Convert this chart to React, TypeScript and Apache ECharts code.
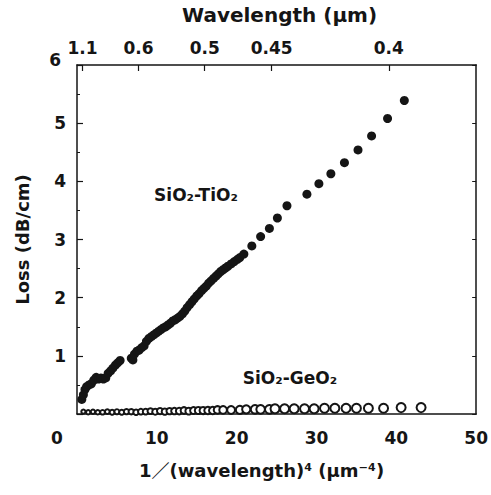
import React, { useEffect, useRef } from "react";
import * as echarts from "echarts";

// x: 1/(wavelength)^4 (µm^-4), y: loss (dB/cm)
const tio2X = [0.6, 0.8, 1.0, 1.2, 1.5, 1.8, 2.1, 2.4, 2.7, 3.0, 3.3, 3.6, 3.9, 4.2, 4.5, 4.8, 5.1, 5.4,
  6.8, 7.0, 7.2, 7.5, 7.8, 8.1, 8.4, 8.7, 9.0, 9.3, 9.6, 9.9, 10.2, 10.5, 10.8, 11.1, 11.4, 11.7, 12.0,
  12.3, 12.6, 12.9, 13.2, 13.5, 13.8, 14.1, 14.4, 14.7, 15.0, 15.3, 15.6, 15.9, 16.2, 16.5, 16.8, 17.1,
  17.4, 17.7, 18.0, 18.3, 18.6, 18.9, 19.3, 19.7, 20.1, 20.4, 20.9, 21.9, 23.0, 24.1, 25.1, 26.3, 28.8,
  30.3, 31.8, 33.5, 35.2, 36.9, 38.9, 41.0];
const tio2Y = [0.25, 0.33, 0.42, 0.47, 0.5, 0.52, 0.58, 0.63, 0.6, 0.62, 0.6, 0.62, 0.7, 0.74, 0.79, 0.84, 0.88, 0.92,
  0.96, 0.93, 1.03, 1.08, 1.1, 1.14, 1.17, 1.25, 1.3, 1.33, 1.36, 1.39, 1.42, 1.45, 1.48, 1.5, 1.53, 1.56, 1.6,
  1.62, 1.65, 1.68, 1.72, 1.77, 1.83, 1.88, 1.93, 1.98, 2.03, 2.07, 2.12, 2.16, 2.2, 2.25, 2.29, 2.33,
  2.37, 2.41, 2.45, 2.48, 2.51, 2.54, 2.58, 2.62, 2.66, 2.69, 2.75, 2.89, 3.05, 3.19, 3.37, 3.58, 3.78,
  3.96, 4.13, 4.32, 4.54, 4.78, 5.08, 5.39];

const geo2X = [0.8, 1.4, 2.0, 2.6, 3.2, 3.8, 4.4, 5.0, 5.6, 6.2, 6.8, 7.4, 8.0, 8.6, 9.2, 9.8, 10.4, 11.0,
  11.6, 12.2, 12.8, 13.4, 14.0, 14.6, 15.2, 15.8, 16.4, 17.0, 17.6, 18.3, 19.3, 20.4, 21.2, 22.3, 23.0,
  24.1, 24.8, 26.0, 27.2, 28.5, 29.7, 31.0, 32.3, 33.7, 35.0, 36.5, 38.4, 40.6, 43.1];
const geo2Y = [0.04, 0.03, 0.04, 0.03, 0.03, 0.04, 0.03, 0.04, 0.03, 0.04, 0.04, 0.03, 0.04, 0.04, 0.05, 0.04, 0.05, 0.04,
  0.05, 0.05, 0.05, 0.06, 0.05, 0.06, 0.06, 0.06, 0.06, 0.06, 0.07, 0.07, 0.07, 0.07, 0.08, 0.08, 0.08,
  0.08, 0.09, 0.09, 0.09, 0.09, 0.09, 0.1, 0.1, 0.1, 0.1, 0.1, 0.1, 0.11, 0.11];

const xTicks = [0, 10, 20, 30, 40, 50];
const yTicks = [0, 1, 2, 3, 4, 5, 6];
const wavelengthLabels = ["1.1", "0.6", "0.5", "0.45", "0.4"];

const FONT = "'DejaVu Sans', 'Noto Sans CJK JP', sans-serif";
const INK = "#151515";

export default function App() {
  const ref = useRef<HTMLDivElement>(null);
  useEffect(() => {
    if (!ref.current) return;
    const chart = echarts.init(ref.current, undefined, { renderer: "svg" });
    const topPositions = wavelengthLabels.map((s) => 1 / Math.pow(parseFloat(s), 4));
    const tio2 = tio2X.map((x, i) => [x, tio2Y[i]]);
    const geo2 = geo2X.map((x, i) => [x, geo2Y[i]]);
    const lineStyle = { color: INK, width: 1.5 };
    const labelBase = { fontFamily: FONT, fontSize: 17, fontWeight: "bold" as const, color: INK };
    chart.setOption({
      animation: false,
      backgroundColor: "#fff",
      grid: { left: 77, right: 10, top: 65, bottom: 81, containLabel: false },
      xAxis: [
        {
          type: "value",
          position: "bottom",
          min: xTicks[0],
          max: xTicks[xTicks.length - 1],
          interval: 10,
          axisLine: { show: true, onZero: false, lineStyle },
          axisTick: { show: false },
          splitLine: { show: false },
          axisLabel: {
            margin: 15,
            ...labelBase,
            formatter: (v: number) => (v === 0 ? "{z|0}" : String(v)),
            rich: { z: { ...labelBase, padding: [0, 40, 0, 0] } },
          },
          name: "1／(wavelength)⁴ (μm⁻⁴)",
          nameLocation: "middle",
          nameGap: 47,
          nameTextStyle: { fontFamily: FONT, fontSize: 18, fontWeight: "bold", color: INK, padding: [0, 30, 0, 0] },
        },
        {
          type: "value",
          position: "top",
          min: 0,
          max: 50,
          axisLine: { show: true, onZero: false, lineStyle },
          axisTick: { show: true, inside: true, length: 6, customValues: topPositions, lineStyle: { color: INK, width: 1.2 } },
          splitLine: { show: false },
          axisLabel: {
            customValues: topPositions,
            margin: 9,
            ...labelBase,
            formatter: (v: number) => {
              let best = 0;
              topPositions.forEach((p, i) => {
                if (Math.abs(p - v) < Math.abs(topPositions[best] - v)) best = i;
              });
              return wavelengthLabels[best];
            },
          },
          name: "Wavelength (μm)",
          nameLocation: "middle",
          nameGap: 40,
          nameTextStyle: { fontFamily: FONT, fontSize: 20, fontWeight: "bold", color: INK, padding: [0, 0, 0, 6] },
        },
      ],
      yAxis: [
        {
          type: "value",
          position: "left",
          min: yTicks[0],
          max: yTicks[yTicks.length - 1],
          interval: 1,
          axisLine: { show: true, onZero: false, lineStyle },
          axisTick: { show: true, inside: true, length: 6, lineStyle: { color: INK, width: 1.2 } },
          minorTick: { show: true, splitNumber: 2, length: 3, lineStyle: { color: INK, width: 1 } },
          splitLine: { show: false },
          axisLabel: {
            margin: 11,
            ...labelBase,
            formatter: (v: number) => (v === 0 ? "" : v === 6 ? "{t|6}" : String(v)),
            rich: { t: { ...labelBase, padding: [0, 5, 10, 0] } },
          },
          name: "Loss (dB/cm)",
          nameLocation: "middle",
          nameRotate: 90,
          nameGap: 46,
          nameTextStyle: { fontFamily: FONT, fontSize: 18, fontWeight: "bold", color: INK },
        },
        {
          type: "value",
          position: "right",
          min: 0,
          max: 6,
          interval: 1,
          axisLine: { show: true, onZero: false, lineStyle },
          axisTick: { show: true, inside: true, length: 4, lineStyle: { color: INK, width: 1 } },
          splitLine: { show: false },
          axisLabel: { show: false },
        },
      ],
      series: [
        {
          name: "SiO2-GeO2",
          type: "scatter",
          data: geo2,
          symbol: "emptyCircle",
          symbolSize: (v: number[]) => Math.min(9, 4 + v[0] * 0.2),
          itemStyle: { color: INK, borderColor: INK, borderWidth: 1.3, opacity: 1 },
          z: 2,
        },
        {
          name: "SiO2-TiO2",
          type: "scatter",
          data: tio2,
          symbol: "circle",
          symbolSize: 9,
          itemStyle: { color: INK, opacity: 1 },
          z: 3,
        },
      ],
      graphic: [
        {
          type: "text",
          x: 196,
          y: 195,
          style: { text: "SiO₂-TiO₂", fontFamily: FONT, fontSize: 17, fontWeight: "bold", fill: INK, align: "center", verticalAlign: "middle" },
        },
        {
          type: "text",
          x: 290,
          y: 378,
          style: { text: "SiO₂-GeO₂", fontFamily: FONT, fontSize: 17, fontWeight: "bold", fill: INK, align: "center", verticalAlign: "middle" },
        },
      ],
    });
    return () => chart.dispose();
  }, []);
  return <div ref={ref} style={{ position: "fixed", left: 0, top: 0, width: 491, height: 495 }} />;
}
